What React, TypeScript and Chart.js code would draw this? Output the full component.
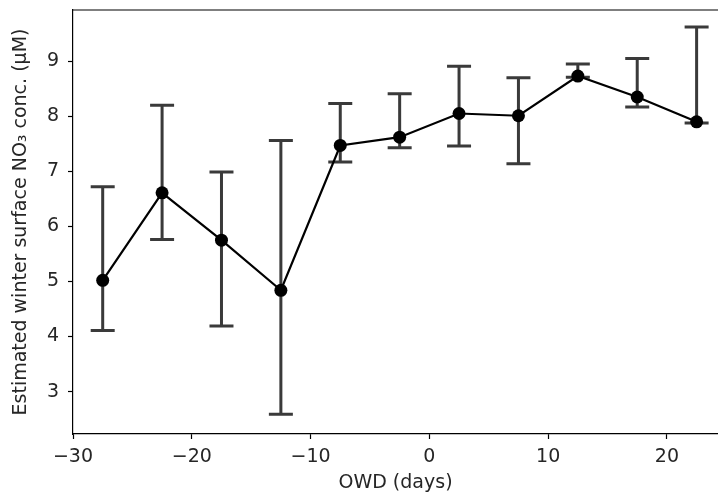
import React, { useEffect, useRef } from "react";
import { Chart, registerables } from "chart.js";

Chart.register(...registerables);

const owdDays = [-27.5, -22.5, -17.5, -12.5, -7.5, -2.5, 2.5, 7.5, 12.5, 17.5, 22.5];
const no3Mean = [5.02, 6.61, 5.75, 4.84, 7.47, 7.62, 8.05, 8.01, 8.73, 8.35, 7.9];
const no3Upper = [6.72, 8.2, 6.99, 7.56, 8.23, 8.41, 8.91, 8.7, 8.95, 9.05, 9.62];
const no3Lower = [4.11, 5.76, 4.19, 2.59, 7.17, 7.43, 7.46, 7.14, 8.71, 8.17, 7.88];

const xLabel = "OWD (days)";
const yLabel = "Estimated winter surface NO\u2083 conc. (\u03bcM)";

const FONT = "'DejaVu Sans', sans-serif";
const TEXT = "#262626";
const FSIZE = 19;

const errorBarPlugin = {
  id: "errorBars",
  beforeDatasetsDraw(chart: any) {
    const { ctx, scales } = chart;
    const xs = scales.x;
    const ys = scales.y;
    ctx.save();
    ctx.strokeStyle = "#3a3a3a";
    ctx.lineWidth = 3;
    ctx.lineCap = "butt";
    for (let i = 0; i < owdDays.length; i++) {
      const px = xs.getPixelForValue(owdDays[i]);
      const pu = ys.getPixelForValue(no3Upper[i]);
      const pl = ys.getPixelForValue(no3Lower[i]);
      ctx.beginPath();
      ctx.moveTo(px, pu);
      ctx.lineTo(px, pl);
      ctx.moveTo(px - 12, pu);
      ctx.lineTo(px + 12, pu);
      ctx.moveTo(px - 12, pl);
      ctx.lineTo(px + 12, pl);
      ctx.stroke();
    }
    ctx.restore();
  },
  afterDraw(chart: any) {
    const { ctx, chartArea } = chart;
    ctx.save();
    ctx.strokeStyle = "#000";
    ctx.lineWidth = 1.2;
    ctx.beginPath();
    ctx.moveTo(chartArea.left, chartArea.top);
    ctx.lineTo(chartArea.right, chartArea.top);
    ctx.stroke();
    ctx.restore();
  },
};

export default function App() {
  const ref = useRef<HTMLCanvasElement | null>(null);
  useEffect(() => {
    document.body.style.margin = "0";
    const canvas = ref.current;
    if (!canvas) return;
    const chart = new Chart(canvas, {
      type: "line",
      data: {
        datasets: [
          {
            data: owdDays.map((x, i) => ({ x, y: no3Mean[i] })),
            borderColor: "#000",
            borderWidth: 2.2,
            pointRadius: 6.5,
            pointBackgroundColor: "#000",
            pointBorderWidth: 0,
            tension: 0,
            clip: false as any,
          },
        ],
      },
      options: {
        responsive: false,
        animation: false,
        events: [],
        layout: { autoPadding: false, padding: { top: 10, right: 0, bottom: 0, left: 0 } },
        plugins: { legend: { display: false }, tooltip: { enabled: false } },
        scales: {
          x: {
            type: "linear",
            min: -30,
            max: 24.3,
            afterFit(scale: any) {
              scale.height = 63;
              scale.paddingLeft = 0;
              scale.paddingRight = 0;
            },
            ticks: {
              stepSize: 10,
              includeBounds: false,
              color: TEXT,
              font: { family: FONT, size: FSIZE },
              padding: 7,
              maxRotation: 0,
              callback: (v: any) => (Number(v) < 0 ? "\u2212" + Math.abs(Number(v)) : String(v)),
            },
            grid: {
              display: true,
              drawOnChartArea: false,
              drawTicks: true,
              tickLength: 5,
              tickColor: "#000",
              tickWidth: 1.2,
            },
            border: { display: true, color: "#000", width: 1.2 },
            title: {
              display: true,
              text: xLabel,
              color: TEXT,
              font: { family: FONT, size: FSIZE },
              padding: { top: 0, bottom: 3 },
            },
          },
          y: {
            type: "linear",
            min: 2.23,
            max: 9.93,
            afterFit(scale: any) {
              scale.width = 73;
              scale.paddingTop = 0;
              scale.paddingBottom = 0;
            },
            ticks: {
              stepSize: 1,
              includeBounds: false,
              color: TEXT,
              font: { family: FONT, size: FSIZE },
              padding: 9,
            },
            grid: {
              display: true,
              drawOnChartArea: false,
              drawTicks: true,
              tickLength: 5,
              tickColor: "#000",
              tickWidth: 1.2,
            },
            border: { display: true, color: "#000", width: 1.2 },
            title: {
              display: true,
              text: yLabel,
              color: TEXT,
              font: { family: FONT, size: FSIZE },
              padding: { top: 10, bottom: 0 },
            },
          },
        },
      },
      plugins: [errorBarPlugin],
    });
    return () => chart.destroy();
  }, []);
  return (
    <div style={{ width: 718, height: 497 }}>
      <canvas ref={ref} width={718} height={497} style={{ display: "block" }} />
    </div>
  );
}
